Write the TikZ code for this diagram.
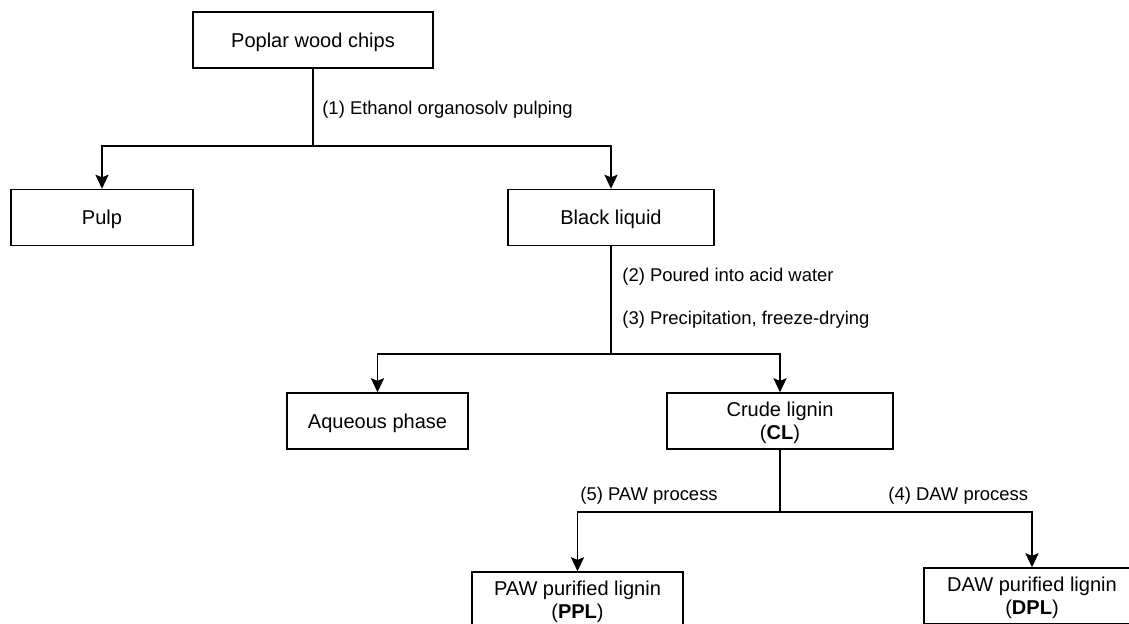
\documentclass[tikz,border=0pt]{standalone}
\usepackage{fontspec}
\setmainfont{Liberation Sans}
\usetikzlibrary{arrows.meta}

\begin{document}
\begin{tikzpicture}[
  x=0.02cm,
  y=-0.02cm,
  stage box/.style={
    draw,
    line width=0.85pt,
    minimum width=#1,
    minimum height=1.12cm,
    inner sep=0pt,
    text depth=0pt,
    align=center,
    font=\fontsize{11.4}{13}\selectfont
  },
  flow/.style={
    line width=0.85pt
  },
  flow arrow/.style={
    flow,
    -{Stealth[length=8pt,width=7.5pt,inset=1.5pt]}
  },
  note/.style={
    anchor=west,
    inner sep=0pt,
    font=\fontsize{10.5}{12}\selectfont
  },
]
\useasboundingbox (0,0) rectangle (1129,623);

\node[stage box=4.8cm] (chips) at (313,40) {Poplar wood chips};
\node[stage box=3.64cm] (pulp) at (102,217.5) {Pulp};
\node[stage box=4.12cm] (black) at (611,217.5) {Black liquid};
\node[stage box=3.62cm] (aqueous) at (377.5,421) {Aqueous phase};
\node[stage box=4.52cm] (crude) at (780,421) {Crude lignin\\(\textbf{CL})};
\node[stage box=4.22cm] (ppl) at (577.5,600) {PAW purified lignin\\(\textbf{PPL})};
\node[stage box=4.32cm] (dpl) at (1032,596) {DAW purified lignin\\(\textbf{DPL})};

\coordinate (split1) at (313,146);
\coordinate (split2) at (611,354);
\coordinate (split3) at (780,512);

\draw[flow] (chips) -- (split1);
\draw[flow arrow] (split1) -| (pulp);
\draw[flow arrow] (split1) -| (black);
\draw[flow] (black) -- (split2);
\draw[flow arrow] (split2) -| (aqueous);
\draw[flow arrow] (split2) -| (crude);
\draw[flow] (crude) -- (split3);
\draw[flow arrow] (split3) -| (ppl);
\draw[flow arrow] (split3) -| (dpl);

\node[note] (pulping) at (322,110) {(1) Ethanol organosolv pulping};
\node[note] (pouring) at (622,277) {(2) Poured into acid water};
\node[note] (drying) at (622,320) {(3) Precipitation, freeze-drying};
\node[note] (paw) at (580,496) {(5) PAW process};
\node[note] (daw) at (888,496) {(4) DAW process};
\end{tikzpicture}
\end{document}
